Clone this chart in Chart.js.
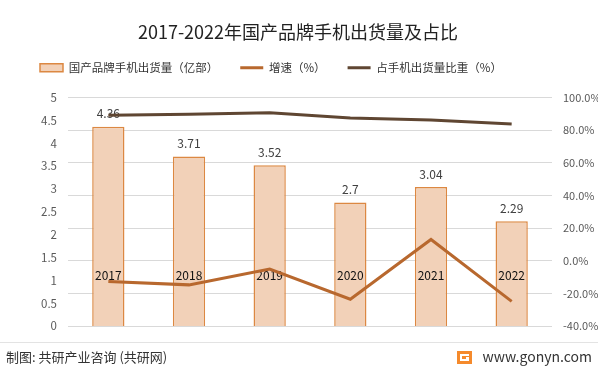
<!DOCTYPE html>
<html>
<head>
<meta charset="utf-8">
<script src="https://cdn.jsdelivr.net/npm/chart.js@4.4.0/dist/chart.umd.min.js"></script>
<style>
  body { margin: 0; background: #fff; }
  canvas { display: block; }
</style>
</head>
<body>
<canvas id="chart" width="598" height="374"></canvas>
<script>
// data
const years = ['2017', '2018', '2019', '2020', '2021', '2022'];
const shipments = [4.36, 3.71, 3.52, 2.7, 3.04, 2.29];   // 亿部
const growth = [-12.8, -14.8, -5.1, -23.6, 13.0, -24.9];  // %
const share = [89.1, 89.7, 90.7, 87.5, 86.2, 83.8];       // %
const leftTicks = { min: 0, max: 5, step: 0.5 };
const rightTicks = { min: -40, max: 100, step: 20 };

const cjk = '"Noto Sans CJK SC", "Noto Sans", sans-serif';

// push the plot down below the legend
const legendGap = {
    id: 'legendGap',
    beforeInit(chart) {
        if (!chart.legend) return;
        const fit = chart.legend.fit;
        chart.legend.fit = function () {
            fit.call(this);
            this.height += 14;
        };
    }
};

// bar values + year labels, drawn before the lines go on top
const barLabels = {
    id: 'barLabels',
    afterDatasetDraw(chart, args) {
        if (args.index !== 0) return;
        const ctx = chart.ctx;
        const yearY = chart.scales.y1.getPixelForValue(0) + 15;
        ctx.save();
        ctx.textAlign = 'center';
        ctx.textBaseline = 'middle';
        ctx.font = '12px ' + cjk;
        args.meta.data.forEach((bar, i) => {
            ctx.fillStyle = '#404040';
            ctx.fillText(String(shipments[i]), bar.x, bar.y - 13);
            ctx.fillStyle = '#111';
            ctx.fillText(years[i], bar.x, yearY);
        });
        ctx.restore();
    }
};

// title and footer
const frame = {
    id: 'frame',
    afterDraw(chart) {
        const ctx = chart.ctx;
        ctx.save();
        ctx.fillStyle = '#222';
        ctx.textAlign = 'center';
        ctx.textBaseline = 'middle';
        ctx.font = '18px ' + cjk;
        ctx.fillText('2017-2022年国产品牌手机出货量及占比', 298, 32);

        ctx.strokeStyle = '#e3e3e3';
        ctx.lineWidth = 1;
        ctx.beginPath();
        ctx.moveTo(0, 342.5);
        ctx.lineTo(598, 342.5);
        ctx.stroke();

        ctx.textAlign = 'left';
        ctx.fillStyle = '#333';
        ctx.font = '13px ' + cjk;
        ctx.fillText('制图: 共研产业咨询 (共研网)', 6, 357);

        // logo
        ctx.fillStyle = '#F58A2C';
        ctx.fillRect(457, 351, 15, 13);
        ctx.fillStyle = '#fff';
        ctx.fillRect(460, 354, 9, 2);
        ctx.fillRect(460, 354, 2, 7);
        ctx.fillRect(460, 359, 9, 2);
        ctx.fillRect(466, 357, 3, 3);

        ctx.fillStyle = '#333';
        ctx.textAlign = 'right';
        ctx.font = '14px ' + cjk;
        ctx.fillText('www.gonyn.com', 592, 357);
        ctx.restore();
    }
};

new Chart(document.getElementById('chart'), {
    type: 'bar',
    data: {
        labels: years,
        datasets: [{
            type: 'bar',
            label: '国产品牌手机出货量（亿部）',
            data: shipments,
            backgroundColor: '#F2D1B8',
            borderColor: '#DC8842',
            borderWidth: 1.5,
            categoryPercentage: 0.8,
            barPercentage: 0.5,
            pointStyle: 'rect',
            yAxisID: 'y',
            order: 3
        }, {
            type: 'line',
            label: '增速（%）',
            data: growth,
            borderColor: '#B8682E',
            backgroundColor: '#B8682E',
            borderWidth: 3,
            pointRadius: 0,
            pointStyle: 'line',
            tension: 0,
            yAxisID: 'y1',
            order: 2
        }, {
            type: 'line',
            label: '占手机出货量比重（%）',
            data: share,
            borderColor: '#5F4632',
            backgroundColor: '#5F4632',
            borderWidth: 3,
            pointRadius: 0,
            pointStyle: 'line',
            tension: 0,
            yAxisID: 'y1',
            order: 1
        }]
    },
    options: {
        responsive: false,
        animation: false,
        layout: { padding: { top: 40, left: 18, right: 0, bottom: 48 } },
        scales: {
            x: { display: false },
            y: {
                position: 'left',
                min: leftTicks.min,
                max: leftTicks.max,
                afterFit: s => { s.width = 50; },
                grid: { display: false, drawTicks: false },
                border: { display: false },
                ticks: {
                    stepSize: leftTicks.step,
                    padding: 11,
                    color: '#595959',
                    font: { family: cjk, size: 11.5 },
                    callback: v => String(+v.toFixed(1))
                }
            },
            y1: {
                position: 'right',
                min: rightTicks.min,
                max: rightTicks.max,
                afterFit: s => { s.width = 46; },
                grid: { color: '#d9d9d9', drawTicks: false },
                border: { display: false },
                ticks: {
                    stepSize: rightTicks.step,
                    padding: 11,
                    color: '#595959',
                    font: { family: cjk, size: 11 },
                    callback: v => v.toFixed(1) + '%'
                }
            }
        },
        plugins: {
            title: { display: false },
            tooltip: { enabled: false },
            legend: {
                position: 'top',
                align: 'start',
                labels: {
                    usePointStyle: true,
                    pointStyleWidth: 23,
                    boxHeight: 8,
                    padding: 22,
                    color: '#333',
                    font: { family: cjk, size: 11.5 },
                    sort: (a, b) => a.datasetIndex - b.datasetIndex
                }
            }
        }
    },
    plugins: [legendGap, barLabels, frame]
});
</script>
</body>
</html>
